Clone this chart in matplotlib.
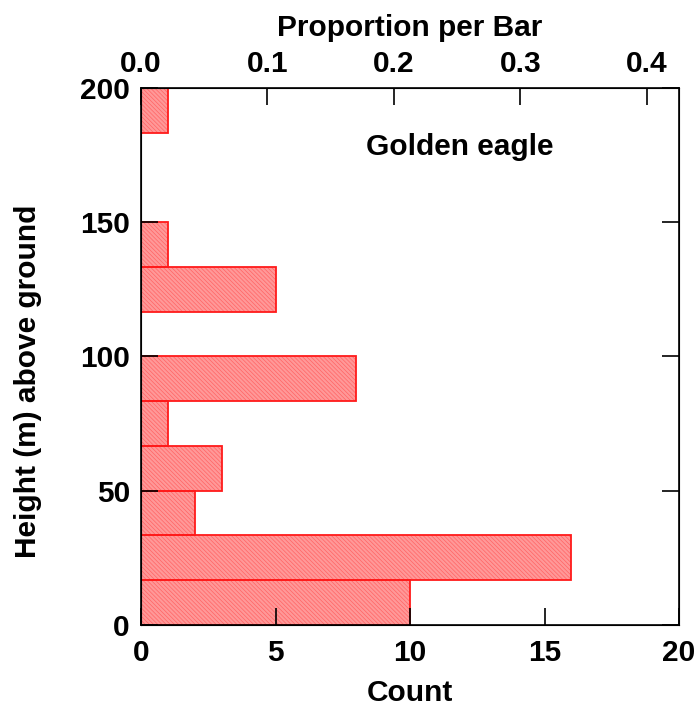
import matplotlib
matplotlib.use("Agg")
import matplotlib.pyplot as plt
import numpy as np

plt.rcParams['font.family'] = ['Liberation Sans', 'DejaVu Sans']
plt.rcParams['font.weight'] = 'bold'
plt.rcParams['hatch.linewidth'] = 0.5

# histogram bins (height above ground, m) and counts
bin_edges = np.linspace(0, 200, 13)
counts = [10, 16, 2, 3, 1, 8, 0, 5, 1, 0, 0, 1]
count_ticks = [0, 5, 10, 15, 20]
prop_ticks = [0.0, 0.1, 0.2, 0.3, 0.4]
height_ticks = [0, 50, 100, 150, 200]
label = 'Golden eagle'

total = sum(counts)
fs = 21.5

fig = plt.figure(figsize=(6.96, 7.09), dpi=100)
ax = fig.add_axes([0.2026, 0.1185, 0.773, 0.7575])

bins_lo = bin_edges[:-1]
width = bin_edges[1] - bin_edges[0]
# hatched fill, then the red outline on top
ax.barh(bins_lo, counts, height=width, align='edge',
        facecolor='#ff9898', edgecolor='#ff6464', linewidth=0,
        hatch='\\\\\\\\\\\\\\\\')
ax.barh(bins_lo, counts, height=width, align='edge',
        facecolor='none', edgecolor='#ff1a1a', linewidth=1.3)

ax.set_xlim(0, 20)
ax.set_ylim(0, 200)
ax.set_xticks(count_ticks)
ax.set_yticks(height_ticks)
ax.tick_params(direction='in', length=12, width=1.2, labelsize=fs,
               right=True)
ax.tick_params(axis='x', pad=10)
ax.tick_params(axis='y', pad=8)
ax.set_xlabel('Count', fontsize=fs, fontweight='bold', labelpad=9)
ax.set_ylabel('Height (m) above ground', fontsize=fs, fontweight='bold')
ax.yaxis.set_label_coords(-0.184, 0.454)
for s in ax.spines.values():
    s.set_linewidth(1.2)

# top axis: proportion per bar
ax2 = ax.twiny()
ax2.set_xlim(0, 20 / total)
ax2.set_xticks(prop_ticks)
ax2.set_xticklabels(['%.1f' % p for p in prop_ticks])
ax2.tick_params(direction='in', length=12, width=1.2, labelsize=fs, pad=7)
ax2.set_xlabel('Proportion per Bar', fontsize=fs, fontweight='bold',
               labelpad=10)

ax.text(0.592, 0.89, label, transform=ax.transAxes, ha='center',
        va='center', fontsize=fs, fontweight='bold')

fig.savefig('out.png', dpi=100)
